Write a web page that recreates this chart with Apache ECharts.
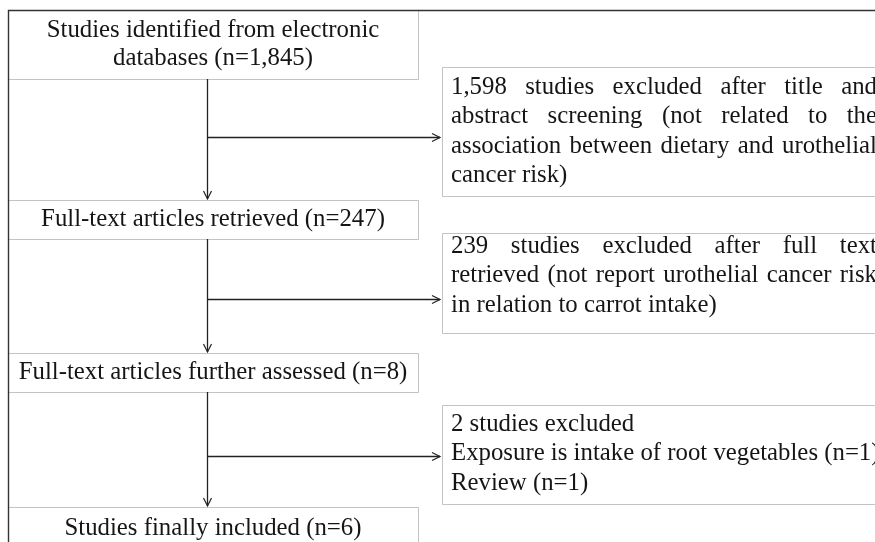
<!DOCTYPE html>
<html><head><meta charset="utf-8">
<script src="https://cdn.jsdelivr.net/npm/echarts@6/dist/echarts.min.js"></script>
<style>html,body{margin:0;padding:0;background:#fff}#c{width:875px;height:542px}</style>
</head><body><div id="c"></div>
<script>
// ---------- content ----------
const stepTexts = [
  ["Studies identified from electronic", "databases (n=1,845)"],
  ["Full-text articles retrieved (n=247)"],
  ["Full-text articles further assessed (n=8)"],
  ["Studies finally included (n=6)"]
];
const excludedTexts = [
  ["1,598 studies excluded after title and", "abstract screening (not related to the", "association between dietary and urothelial", "cancer risk)"],
  ["239 studies excluded after full text", "retrieved (not report urothelial cancer risk", "in relation to carrot intake)"],
  ["2 studies excluded", "Exposure is intake of root vegetables (n=1)", "Review (n=1)"]
];
const excludedJustify = [[true, true, true, false], [true, true, false], [false, false, false]];

// ---------- layout (chart coordinates) ----------
const stepBoxes = [[8, 10, 418, 79], [8, 200, 418, 239], [8, 353, 418, 392], [8, 507, 418, 550]];
const stepTextCenters = [44.5, 219, 372.5, 528.5];
const stepLineGap = 28;
const exclBoxes = [[442, 67, 890, 196], [442, 233, 890, 333], [442, 405, 890, 504]];
const exclFirstLine = [87.5, 246.5, 424.5];
const exclLineGap = 29.4;
const exclTextX = 451, exclTextW = 426;
const trunkX = 207.5;
const branchY = [137.5, 299.5, 456.5];
const branchEndX = 440;
const FONT_SIZE = 24.8, FONT_FAMILY = '"Liberation Serif", "Times New Roman", serif';
const FONT = FONT_SIZE + 'px ' + FONT_FAMILY;
const TEXT_COLOR = '#151515', LINE_COLOR = '#222', BOX_COLOR = '#c3c3c3';

const measureCtx = document.createElement('canvas').getContext('2d');
measureCtx.font = FONT;
function tw(s) { return measureCtx.measureText(s).width; }

// build drawing jobs
const jobs = [];
stepBoxes.forEach((b) => jobs.push({ kind: 'box', b }));
exclBoxes.forEach((b) => jobs.push({ kind: 'box', b }));
jobs.push({ kind: 'frame' });
stepTexts.forEach((lines, i) => {
  const b = stepBoxes[i];
  const cy = stepTextCenters[i];
  const cx = (b[0] + b[2]) / 2;
  lines.forEach((t, k) => {
    const y = cy + (k - (lines.length - 1) / 2) * stepLineGap;
    jobs.push({ kind: 'text', t, x: cx, y, align: 'center' });
  });
});
excludedTexts.forEach((lines, i) => {
  lines.forEach((t, k) => {
    const y = exclFirstLine[i] + k * exclLineGap;
    if (excludedJustify[i][k]) {
      const words = t.split(' ');
      const widths = words.map(tw);
      const sum = widths.reduce((a, c) => a + c, 0);
      const gap = (exclTextW - sum) / (words.length - 1);
      let x = exclTextX;
      words.forEach((w, j) => { jobs.push({ kind: 'text', t: w, x, y, align: 'left' }); x += widths[j] + gap; });
    } else {
      jobs.push({ kind: 'text', t, x: exclTextX, y, align: 'left' });
    }
  });
});
for (let i = 0; i < 3; i++) {
  jobs.push({ kind: 'vline', x: trunkX, y0: stepBoxes[i][3], y1: stepBoxes[i + 1][1] - 1 });
  jobs.push({ kind: 'hline', y: branchY[i], x0: trunkX, x1: branchEndX });
}

function renderItem(params, api) {
  const j = jobs[params.dataIndex];
  const P = (x, y) => api.coord([x, y]);
  if (j.kind === 'box') {
    const a = P(j.b[0], j.b[1]), c = P(j.b[2], j.b[3]);
    return { type: 'rect', shape: { x: a[0] + 0.5, y: a[1] + 0.5, width: c[0] - a[0], height: c[1] - a[1] },
      style: { fill: '#fff', stroke: BOX_COLOR, lineWidth: 1 } };
  }
  if (j.kind === 'frame') {
    const o = P(8, 10), r = P(875, 10), btm = P(8, 542);
    return { type: 'polyline', shape: { points: [[btm[0] + 0.5, btm[1] + 5], [o[0] + 0.5, o[1] + 0.5], [r[0] + 5, r[1] + 0.5]] },
      style: { stroke: '#333', lineWidth: 1.4, fill: null } };
  }
  if (j.kind === 'text') {
    const p = P(j.x, j.y);
    return { type: 'text', style: { text: j.t, x: p[0], y: p[1], font: FONT, fill: TEXT_COLOR,
      align: j.align, textAlign: j.align, verticalAlign: 'middle', textVerticalAlign: 'middle' } };
  }
  if (j.kind === 'vline') {
    const a = P(j.x, j.y0), c = P(j.x, j.y1);
    return { type: 'group', children: [
      { type: 'line', shape: { x1: a[0], y1: a[1], x2: c[0], y2: c[1] }, style: { stroke: LINE_COLOR, lineWidth: 1.3 } },
      { type: 'polyline', shape: { points: [[c[0] - 4, c[1] - 8], [c[0], c[1]], [c[0] + 4, c[1] - 8]] }, style: { stroke: LINE_COLOR, lineWidth: 1.2, fill: null } }
    ] };
  }
  if (j.kind === 'hline') {
    const a = P(j.x0, j.y), c = P(j.x1, j.y);
    return { type: 'group', children: [
      { type: 'line', shape: { x1: a[0], y1: a[1], x2: c[0], y2: c[1] }, style: { stroke: LINE_COLOR, lineWidth: 1.3 } },
      { type: 'polyline', shape: { points: [[c[0] - 8, c[1] - 4], [c[0], c[1]], [c[0] - 8, c[1] + 4]] }, style: { stroke: LINE_COLOR, lineWidth: 1.2, fill: null } }
    ] };
  }
}

const chart = echarts.init(document.getElementById('c'), null, { renderer: 'canvas' });
chart.setOption({
  animation: false,
  backgroundColor: '#fff',
  grid: { left: 0, right: 0, top: 0, bottom: 0 },
  xAxis: { type: 'value', min: 0, max: 875, show: false },
  yAxis: { type: 'value', min: 0, max: 542, inverse: true, show: false },
  series: [{ type: 'custom', renderItem, clip: false, data: jobs.map((_, i) => [i]) }]
});
</script></body></html>
